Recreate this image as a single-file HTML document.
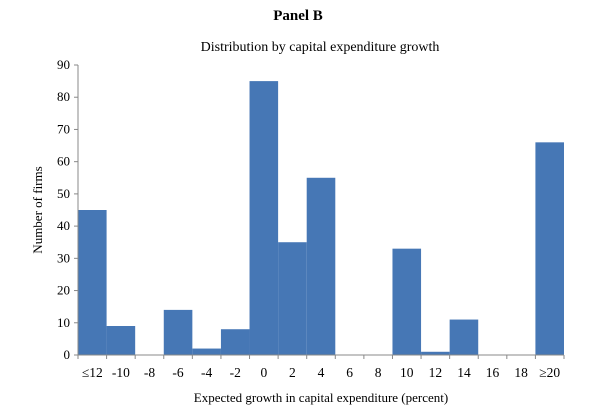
<!DOCTYPE html>
<html><head><meta charset="utf-8"><style>
body{margin:0;background:#fff}
svg text{font-family:"Liberation Serif",serif;fill:#000}
</style></head><body>
<svg width="600" height="411">
<text x="298" y="20" text-anchor="middle" font-size="15" font-weight="bold">Panel B</text>
<text x="320" y="51" text-anchor="middle" font-size="14">Distribution by capital expenditure growth</text>
<text transform="translate(42,210) rotate(-90)" text-anchor="middle" font-size="13">Number of firms</text>
<text x="321" y="402" text-anchor="middle" font-size="13">Expected growth in capital expenditure (percent)</text>
<g id="plot"></g>
</svg>
<script>
const categories=["≤12","-10","-8","-6","-4","-2","0","2","4","6","8","10","12","14","16","18","≥20"];
const counts=[45,9,0,14,2,8,85,35,55,0,0,33,1,11,0,0,66];
const yTicks=[0,10,20,30,40,50,60,70,80,90];
const X0=78,X1=564,Y0=355,Y1=65,YMAX=90;
const bw=(X1-X0)/categories.length;
const xs=i=>X0+i*bw;
const ys=v=>Y0-(v/YMAX)*(Y0-Y1);
const g=document.getElementById('plot');
const NS='http://www.w3.org/2000/svg';
function mk(t,a){const e=document.createElementNS(NS,t);for(const k in a)e.setAttribute(k,a[k]);g.appendChild(e);return e;}
counts.forEach((v,i)=>{
  const r=mk('rect',{x:xs(i),y:ys(v),width:bw,height:Y0-ys(v),fill:'#4677b5'});
  
  
});
const ya=mk('line',{x1:X0,y1:Y1,x2:X0,y2:Y0,stroke:'#888'});


const xa=mk('line',{x1:X0,y1:Y0,x2:X1,y2:Y0,stroke:'#888'});


yTicks.forEach(t=>{
  mk('line',{x1:X0-4,y1:ys(t),x2:X0,y2:ys(t),stroke:'#888'});
  const tx=mk('text',{x:X0-8,y:ys(t)+4,'text-anchor':'end','font-size':13});
  tx.textContent=t;
  
  
});
for(let i=0;i<=categories.length;i++)mk('line',{x1:xs(i),y1:Y0,x2:xs(i),y2:Y0+4,stroke:'#888'});
categories.forEach((c,i)=>{
  const tx=mk('text',{x:xs(i)+bw/2,y:Y0+22,'text-anchor':'middle','font-size':13.5});
  tx.textContent=c;
  
  
});
</script>
</body></html>
